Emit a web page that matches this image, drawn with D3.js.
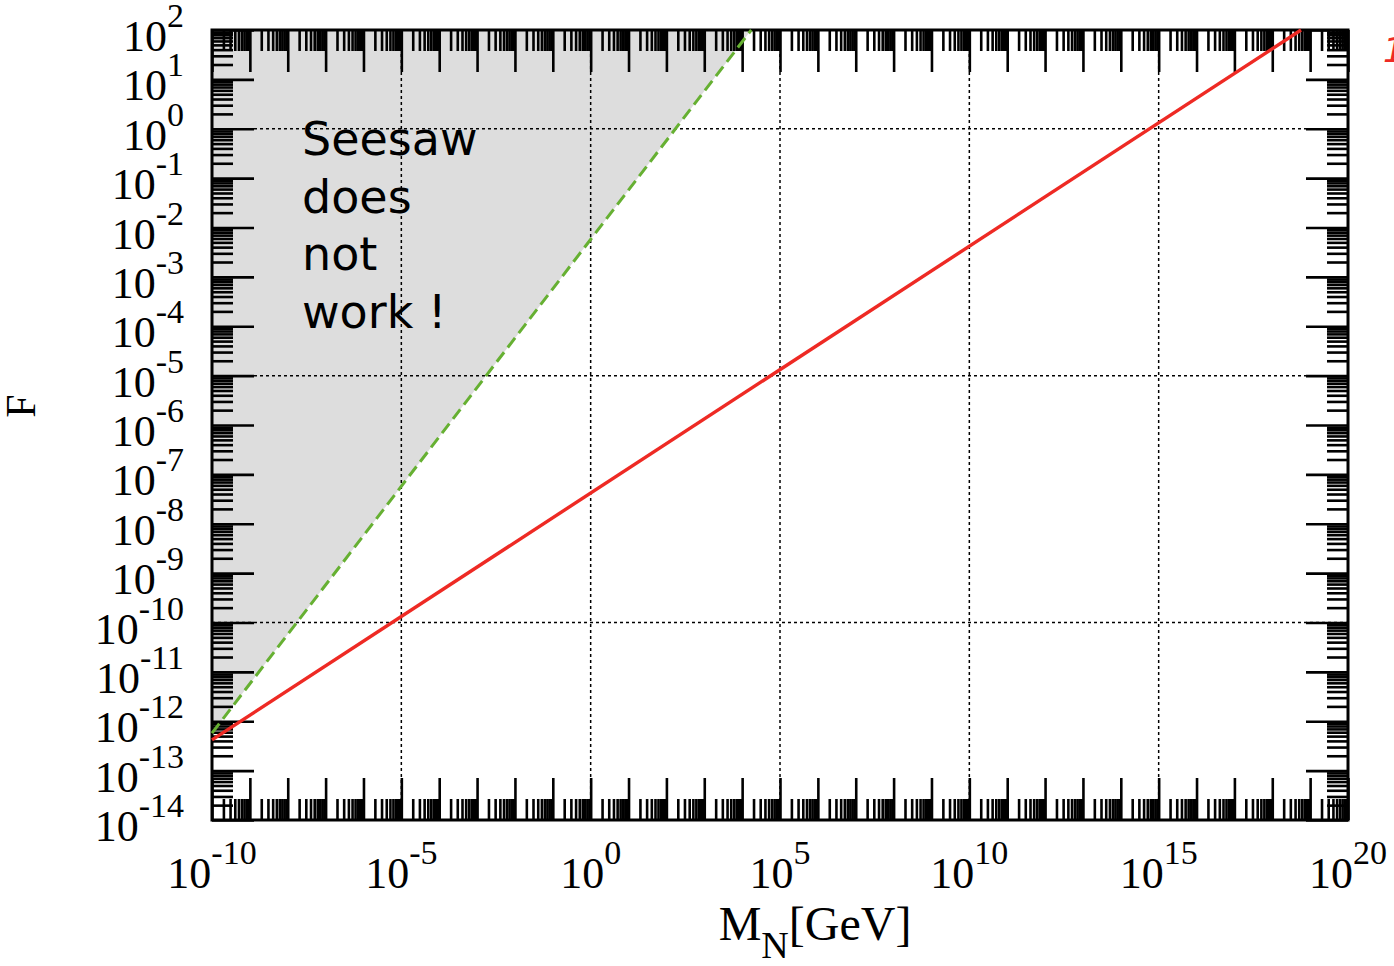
<!DOCTYPE html>
<html>
<head>
<meta charset="utf-8">
<script src="https://cdn.jsdelivr.net/npm/d3@7"></script>
<style>
  html, body { margin: 0; padding: 0; background: #fff; }
  svg { display: block; }
</style>
</head>
<body>
<div id="chart"></div>
<script>
// axis ranges and labelled decades
const xDomain = [1e-10, 1e20];
const yDomain = [1e-14, 1e2];
const xLabelExps = [-10, -5, 0, 5, 10, 15, 20];
const yLabelExps = [2, 1, 0, -1, -2, -3, -4, -5, -6, -7, -8, -9, -10, -11, -12, -13, -14];
const gridXExps = [-5, 0, 5, 10, 15];
const gridYExps = [0, -5, -10];

// seesaw line (red) and lower bound of the excluded region (green dashed)
const seesawM = [1e-10, 5.75e18];
const seesawF = [4.2e-13, 1e2];
const boundM = [1e-10, 1.74e4];
const boundF = [5.75e-13, 1e2];

const noteLines = ['Seesaw', 'does', 'not', 'work !'];

const width = 1394, height = 966;
const plotL = 212, plotR = 1348, plotT = 30, plotB = 820;

const svg = d3.select('#chart').append('svg')
    .attr('width', width)
    .attr('height', height);

const x = d3.scaleLog().domain(xDomain).range([plotL, plotR]);
const y = d3.scaleLog().domain(yDomain).range([plotB, plotT]);

// shaded region: above the green line
const region = boundM.map((m, i) => [m, boundF[i]]);
region.push([xDomain[0], yDomain[1]]);
svg.append('path')
    .attr('d', d3.line().x(d => x(d[0])).y(d => y(d[1]))(region) + 'Z')
    .style('fill', '#dddddd');

// grid
const grid = svg.append('g')
    .style('stroke', '#000')
    .style('stroke-width', 1.5)
    .style('stroke-dasharray', '3,3');
gridXExps.forEach(e => {
    grid.append('line')
        .attr('x1', x(Math.pow(10, e))).attr('x2', x(Math.pow(10, e)))
        .attr('y1', plotT).attr('y2', plotB);
});
gridYExps.forEach(e => {
    grid.append('line')
        .attr('x1', plotL).attr('x2', plotR)
        .attr('y1', y(Math.pow(10, e))).attr('y2', y(Math.pow(10, e)));
});

// tick values: every decade is a major tick, 2..9 are minor
function decadeTicks(domain) {
    const lo = Math.round(Math.log10(domain[0]));
    const hi = Math.round(Math.log10(domain[1]));
    const major = [], minor = [];
    for (let e = lo; e <= hi; e++) {
        major.push(Math.pow(10, e));
        if (e < hi) {
            for (let k = 2; k <= 9; k++) minor.push(k * Math.pow(10, e));
        }
    }
    return { major, minor };
}
const xt = decadeTicks(xDomain);
const yt = decadeTicks(yDomain);

function drawTicks(axisFn, scale, values, size, transform) {
    const g = svg.append('g')
        .attr('transform', transform)
        .call(axisFn(scale).tickValues(values).tickSize(size).tickFormat(''));
    g.select('.domain').remove();
    g.selectAll('line').attr('stroke', '#000').attr('stroke-width', 2.6);
}

[[xt.major, 42], [xt.minor, 21]].forEach(([vals, size]) => {
    drawTicks(d3.axisTop, x, vals, size, `translate(0,${plotB})`);
    drawTicks(d3.axisBottom, x, vals, size, `translate(0,${plotT})`);
});
[[yt.major, 42], [yt.minor, 21]].forEach(([vals, size]) => {
    drawTicks(d3.axisRight, y, vals, size, `translate(${plotL},0)`);
    drawTicks(d3.axisLeft, y, vals, size, `translate(${plotR},0)`);
});

// border
svg.append('rect')
    .attr('x', plotL).attr('y', plotT)
    .attr('width', plotR - plotL).attr('height', plotB - plotT)
    .style('fill', 'none')
    .style('stroke', '#000')
    .style('stroke-width', 3);

// tick labels
const serif = '"Liberation Serif", "Times New Roman", serif';
function powerLabel(sel, e) {
    sel.append('tspan').style('font-size', '44px').text('10');
    sel.append('tspan').attr('dy', -24).style('font-size', '34px').text(String(e));
}
xLabelExps.forEach(e => {
    const t = svg.append('text')
        .attr('x', x(Math.pow(10, e)))
        .attr('y', 888)
        .attr('text-anchor', 'middle')
        .style('font-family', serif)
        .style('fill', '#000');
    powerLabel(t, e);
});
yLabelExps.forEach(e => {
    const t = svg.append('text')
        .attr('x', 184)
        .attr('y', y(Math.pow(10, e)) + 21)
        .attr('text-anchor', 'end')
        .style('font-family', serif)
        .style('fill', '#000');
    powerLabel(t, e);
});

// axis titles
const xTitle = svg.append('text')
    .attr('x', 815)
    .attr('y', 940)
    .attr('text-anchor', 'middle')
    .style('font-family', serif)
    .style('fill', '#000');
xTitle.append('tspan').style('font-size', '48px').text('M');
xTitle.append('tspan').attr('dy', 18).style('font-size', '38px').text('N');
xTitle.append('tspan').attr('dy', -18).style('font-size', '48px').text('[GeV]');

svg.append('text')
    .attr('transform', 'translate(35,406) rotate(-90)')
    .attr('text-anchor', 'middle')
    .style('font-family', serif)
    .style('font-size', '42px')
    .style('fill', '#000')
    .text('F');

// annotation
noteLines.forEach((s, i) => {
    svg.append('text')
        .attr('x', 302)
        .attr('y', 155 + i * 57.5)
        .style('font-family', '"DejaVu Sans", Verdana, sans-serif')
        .style('font-size', '46px')
        .style('fill', '#000')
        .text(s);
});

// lines
const line = d3.line().x(d => x(d[0])).y(d => y(d[1]));
svg.append('path')
    .attr('d', line(boundM.map((m, i) => [m, boundF[i]])))
    .style('fill', 'none')
    .style('stroke', '#66b032')
    .style('stroke-width', 3)
    .style('stroke-dasharray', '12,6');
svg.append('path')
    .attr('d', line(seesawM.map((m, i) => [m, seesawF[i]])))
    .style('fill', 'none')
    .style('stroke', '#ee2a24')
    .style('stroke-width', 3.4);

// red key text, cut off at the right edge
svg.append('text')
    .attr('x', 1383)
    .attr('y', 62)
    .style('font-family', '"DejaVu Sans", sans-serif')
    .style('font-style', 'italic')
    .style('font-size', '34px')
    .style('fill', '#ee2a24')
    .text('1');
</script>
</body>
</html>
